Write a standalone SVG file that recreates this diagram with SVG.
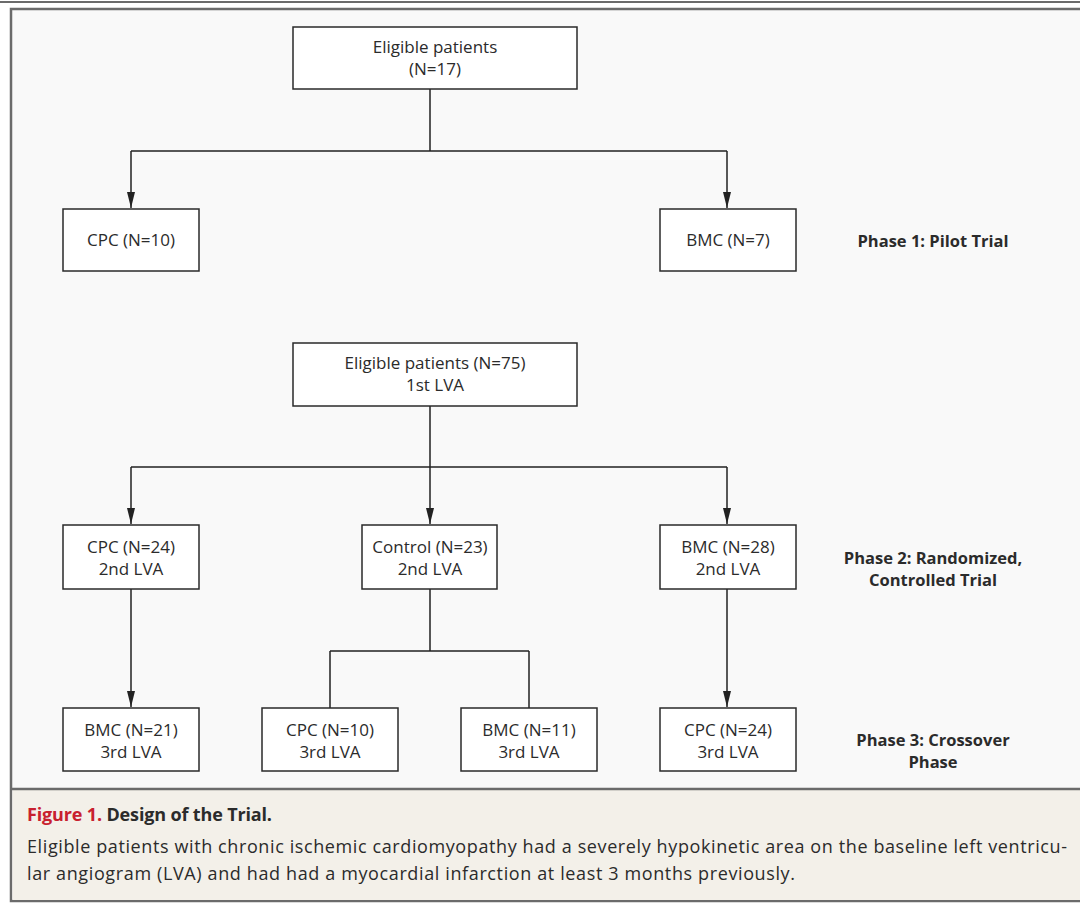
<svg xmlns="http://www.w3.org/2000/svg" width="1080" height="904" viewBox="0 0 1080 904">
<defs>
<style>
.box{fill:#ffffff;stroke:#2a2a2a;stroke-width:1.5}
.t{font-family:"Open Sans","Noto Sans",sans-serif;font-size:17px;fill:#2b2b2b;text-anchor:middle}
.ph{font-family:"Open Sans","Noto Sans",sans-serif;font-size:16.5px;font-weight:bold;fill:#2b2b2b;text-anchor:middle}
.cap{font-family:"Open Sans","Noto Sans",sans-serif;font-size:18px;fill:#2b2b2b}
.ln{fill:none;stroke:#222;stroke-width:1.5}
</style>
<marker id="arr" viewBox="0 0 16 10" refX="16" refY="5" markerWidth="16" markerHeight="10" markerUnits="userSpaceOnUse" orient="auto">
<path d="M0,1 L16,5 L0,9 Z" fill="#222"/>
</marker>
</defs>
<rect x="0" y="0" width="1080" height="904" fill="#ffffff"/>
<line x1="0" y1="2" x2="1080" y2="2" stroke="#6b6b6b" stroke-width="2"/>
<rect x="11" y="9" width="1080" height="892" fill="#f9f9f9" stroke="#6b6b6b" stroke-width="2.5"/>
<rect x="12.5" y="789" width="1070" height="111" fill="#f3f0e9"/>
<line x1="11" y1="789" x2="1080" y2="789" stroke="#6b6b6b" stroke-width="2.5"/>

<g id="connectors">
<path class="ln" d="M430,89 V151 M131,151 H727"/>
<path class="ln" d="M131,151 V208" marker-end="url(#arr)"/>
<path class="ln" d="M727,151 V208" marker-end="url(#arr)"/>
<path class="ln" d="M430,406 V467 M131,467 H727"/>
<path class="ln" d="M131,467 V524" marker-end="url(#arr)"/>
<path class="ln" d="M430,467 V524" marker-end="url(#arr)"/>
<path class="ln" d="M727,467 V524" marker-end="url(#arr)"/>
<path class="ln" d="M131,589 V707" marker-end="url(#arr)"/>
<path class="ln" d="M727,589 V707" marker-end="url(#arr)"/>
<path class="ln" d="M430,589 V651 M330,651 H529 M330,651 V708 M529,651 V708"/>
</g>

<g id="n-elig17">
<rect class="box" x="293" y="27" width="284" height="62"/>
<text class="t" x="435" y="53">Eligible patients</text>
<text class="t" x="435" y="75">(N=17)</text>
</g>
<g id="n-cpc10a">
<rect class="box" x="63" y="209" width="136" height="62"/>
<text class="t" x="131" y="246">CPC (N=10)</text>
</g>
<g id="n-bmc7">
<rect class="box" x="660" y="209" width="136" height="62"/>
<text class="t" x="728" y="246">BMC (N=7)</text>
</g>
<g id="n-elig75">
<rect class="box" x="293" y="343" width="284" height="63"/>
<text class="t" x="435" y="369">Eligible patients (N=75)</text>
<text class="t" x="435" y="391">1st LVA</text>
</g>
<g id="n-cpc24">
<rect class="box" x="63" y="525" width="136" height="64"/>
<text class="t" x="131" y="553">CPC (N=24)</text>
<text class="t" x="131" y="575">2nd LVA</text>
</g>
<g id="n-control23">
<rect class="box" x="362" y="525" width="135" height="64"/>
<text class="t" x="430" y="553">Control (N=23)</text>
<text class="t" x="430" y="575">2nd LVA</text>
</g>
<g id="n-bmc28">
<rect class="box" x="660" y="525" width="136" height="64"/>
<text class="t" x="728" y="553">BMC (N=28)</text>
<text class="t" x="728" y="575">2nd LVA</text>
</g>
<g id="n-bmc21">
<rect class="box" x="63" y="708" width="136" height="63"/>
<text class="t" x="131" y="736">BMC (N=21)</text>
<text class="t" x="131" y="758">3rd LVA</text>
</g>
<g id="n-cpc10b">
<rect class="box" x="262" y="708" width="136" height="63"/>
<text class="t" x="330" y="736">CPC (N=10)</text>
<text class="t" x="330" y="758">3rd LVA</text>
</g>
<g id="n-bmc11">
<rect class="box" x="461" y="708" width="136" height="63"/>
<text class="t" x="529" y="736">BMC (N=11)</text>
<text class="t" x="529" y="758">3rd LVA</text>
</g>
<g id="n-cpc24b">
<rect class="box" x="660" y="708" width="136" height="63"/>
<text class="t" x="728" y="736">CPC (N=24)</text>
<text class="t" x="728" y="758">3rd LVA</text>
</g>

<g id="phase-labels">
<text class="ph" x="933" y="247">Phase 1: Pilot Trial</text>
<text class="ph" x="933" y="564">Phase 2: Randomized,</text>
<text class="ph" x="933" y="586">Controlled Trial</text>
<text class="ph" x="933" y="746">Phase 3: Crossover</text>
<text class="ph" x="933" y="768">Phase</text>
</g>

<g id="caption">
<text class="cap" x="27" y="821" font-weight="bold" font-size="17.5px" textLength="245" lengthAdjust="spacing"><tspan fill="#c8202f">Figure 1.</tspan> Design of the Trial.</text>
<text class="cap" x="27" y="853" textLength="1040" lengthAdjust="spacing">Eligible patients with chronic ischemic cardiomyopathy had a severely hypokinetic area on the baseline left ventricu-</text>
<text class="cap" x="27" y="880" textLength="768" lengthAdjust="spacing">lar angiogram (LVA) and had had a myocardial infarction at least 3 months previously.</text>
</g>
</svg>
